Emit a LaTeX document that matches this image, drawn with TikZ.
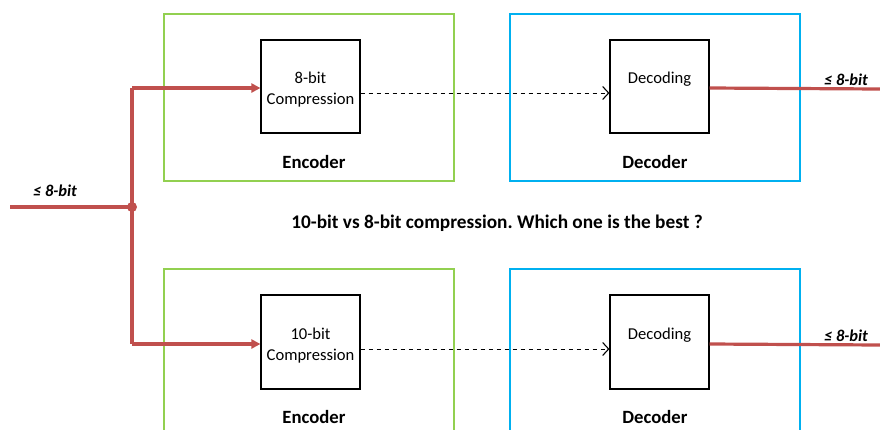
\documentclass[tikz,border=0pt]{standalone}
\usepackage{fontspec}
\setmainfont{Carlito}
\usetikzlibrary{arrows.meta}
\definecolor{grn}{HTML}{92D050}
\definecolor{blu}{HTML}{00B0F0}
\definecolor{rd}{HTML}{C0504D}
\begin{document}
\frenchspacing
\begin{tikzpicture}[x=1pt,y=-1pt,
  outer/.style={draw=#1, line width=1.4pt},
  inner/.style={draw=black, line width=1.2pt, fill=white},
  lbl/.style={font=\fontsize{18.7}{20}\selectfont\bfseries},
  txt/.style={font=\fontsize{16.6}{21}\selectfont, align=center},
  sig/.style={draw=rd, line width=3.2pt},
  sigarr/.style={sig, -{Triangle[length=9pt,width=9pt]}},
  dash arr/.style={draw=black, dash pattern=on 4.5pt off 3.5pt, line width=1pt, -{Straight Barb[length=6pt,width=13pt,line width=1.1pt]}},
  bitlbl/.style={font=\fontsize{16.5}{18}\selectfont\bfseries\itshape}]
\useasboundingbox (0,0) rectangle (880,429);
% outer boxes
\draw[outer=grn] (164,14) rectangle (454,181);
\draw[outer=blu] (510,14) rectangle (800,181);
\draw[outer=grn] (164,269) rectangle (454,440);
\draw[outer=blu] (510,269) rectangle (800,440);
% inner boxes
\node[inner, minimum width=99pt, minimum height=93pt] (enc1) at (310.5,86.5) {};
\node[inner, minimum width=99pt, minimum height=93pt] (dec1) at (659.5,86.5) {};
\node[inner, minimum width=99pt, minimum height=94pt] (enc2) at (310.5,342) {};
\node[inner, minimum width=99pt, minimum height=94pt] (dec2) at (659.5,342) {};
\node[txt] (t1) at (310.5,90) {8-bit\\Compression};
\node[txt] (t2) at (659.5,79) {Decoding};
\node[txt] (t3) at (310.5,346) {10-bit\\Compression};
\node[txt] (t4) at (659.5,335) {Decoding};
% labels
\node[lbl] (l1) at (314,162) {Encoder};
\node[lbl] (l2) at (655,162) {Decoder};
\node[lbl] (l3) at (314,417) {Encoder};
\node[lbl] (l4) at (655,417) {Decoder};
\node[lbl, font=\fontsize{19.3}{20}\selectfont\bfseries] (cap) at (497,223) {10-bit vs 8-bit compression. Which one is the best ?};
% signals
\coordinate (in) at (10,207);
\coordinate (j) at (132,207);
\coordinate (jt) at (132,88);
\coordinate (jb) at (132,344);
\coordinate (o1) at (880,89);
\coordinate (o2) at (880,345);
\draw[sig] (in) -- (j);
\draw[sig] (jt) -- (jb);
\fill[rd] (j) circle (5pt);
\draw[sigarr] (jt) -- (enc1.west |- jt);
\draw[sigarr] (jb) -- (enc2.west |- jb);
\draw[sig] (dec1.east |- 0,88) -- (o1);
\draw[sig] (dec2.east |- 0,344) -- (o2);
\draw[dash arr] (enc1.east |- 0,93) -- (dec1.west |- 0,93);
\draw[dash arr] (enc2.east |- 0,349) -- (dec2.west |- 0,349);
\node[bitlbl] (b1) at (55,191) {≤ 8-bit};
\node[bitlbl] (b2) at (846,80) {≤ 8-bit};
\node[bitlbl] (b3) at (846,336) {≤ 8-bit};
\end{tikzpicture}
\end{document}
